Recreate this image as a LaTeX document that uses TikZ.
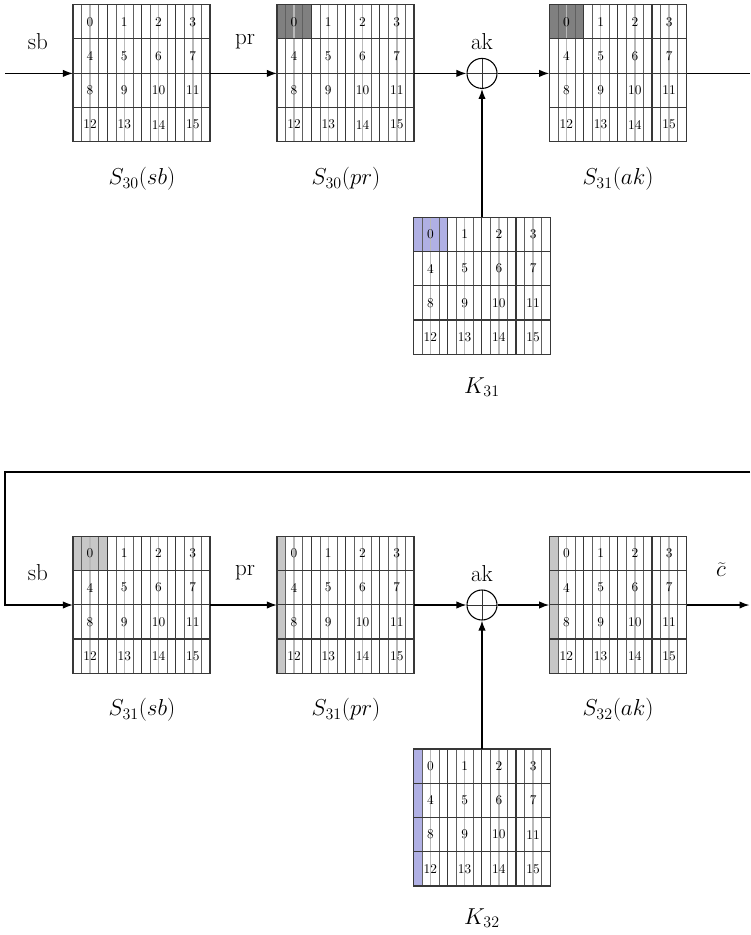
\documentclass[tikz,border=0pt]{standalone}
\usetikzlibrary{arrows.meta}

\definecolor{darkcell}{gray}{0.50}
\definecolor{lightcell}{gray}{0.78}
\definecolor{keycell}{RGB}{176,176,228}
\definecolor{gridink}{gray}{0.22}

\tikzset{
  gridframe/.style={draw=none, inner sep=0pt, minimum width=102.75pt, minimum height=102.75pt},
  cellline/.style={draw=gridink, line width=0.9pt},
  subline/.style={draw=gray!75!black, line width=0.3pt},
  midline/.style={draw=gray!55, line width=1.1pt},
  digit/.style={font=\normalsize, inner sep=0pt},
  xorc/.style={circle, draw, line width=0.8pt, minimum size=22.5pt, inner sep=0pt,
    path picture={\draw[gray!40!black, line width=0.45pt]
      (path picture bounding box.north) -- (path picture bounding box.south)
      (path picture bounding box.west) -- (path picture bounding box.east);}},
  flow/.style={draw, line width=1pt, -{Latex[length=7.5pt,width=5.5pt]}},
  plain/.style={draw, line width=1pt},
  oplbl/.style={font=\LARGE, inner sep=0pt},
  statelbl/.style={font=\LARGE, inner sep=0pt}
}

\def\cs{34.25}
% #1 node name, #2/#3 centre, #4 shading drawn under the lines
\newcommand\cellgrid[4]{%
  \node[gridframe] (#1) at (#2,#3) {};
  \begin{scope}[shift={(#1.north west)}]
    #4
    \foreach \c in {0,...,3}{
      \draw[subline] ({(\c+0.25)*\cs},0) -- ++(0,4*\cs);
      \draw[midline] ({(\c+0.5)*\cs},0) -- ++(0,4*\cs);
      \draw[subline] ({(\c+0.75)*\cs},0) -- ++(0,4*\cs);
    }
    \foreach \r in {1,2,3} \draw[cellline] (0,{\r*\cs}) -- ++(4*\cs,0);
    \foreach \c in {1,2,3} \draw[cellline] ({\c*\cs},0) -- ++(0,4*\cs);
    \draw[cellline] (0,0) rectangle (4*\cs,4*\cs);
    \foreach \r in {0,...,3} \foreach \c in {0,...,3} {
      \pgfmathtruncatemacro\k{4*\r+\c}
      \node[digit] at ({(\c+0.5)*\cs},{(\r+0.5)*\cs}) {\k};
    }
  \end{scope}}

\begin{document}
\begin{tikzpicture}[x=0.75pt, y=-0.75pt]
  \useasboundingbox (0,0) rectangle (750,935);

  % ---- round 30 -> 31 ----
  \cellgrid{g1}{141.7}{73.4}{}
  \cellgrid{g2}{345.7}{73.4}{\fill[darkcell] (0,0) rectangle (\cs,\cs);}
  \cellgrid{g3}{618}{73.4}{\fill[darkcell] (0,0) rectangle (\cs,\cs);}
  \cellgrid{k31}{482}{286}{\fill[keycell] (0,0) rectangle (\cs,\cs);}
  \node[xorc] (x1) at (482,73.4) {};

  \node[oplbl] (sb1) at (38,42) {sb};
  \node[oplbl] (pr1) at (245,42) {pr};
  \node[oplbl] (ak1) at (482,42) {ak};

  \node[statelbl] (n1) at (142,179) {$S_{30}(sb)$};
  \node[statelbl] (n2) at (346,179) {$S_{30}(pr)$};
  \node[statelbl] (n3) at (618,179) {$S_{31}(ak)$};
  \node[statelbl] (n4) at (482,387) {$K_{31}$};

  \coordinate (in1) at (5,73.4);
  \coordinate (out1) at (750,73.4);
  \draw[flow] (in1) -- (g1.west);
  \draw[flow] (g1.east) -- (g2.west);
  \draw[flow] (g2.east) -- (x1.west);
  \draw[flow] (x1.east) -- (g3.west);
  \draw[flow] (k31.north) -- (x1.south);
  \draw[plain] (g3.east) -- (out1);

  % ---- round 31 -> 32 ----
  \cellgrid{g4}{141.7}{605}{\fill[lightcell] (0,0) rectangle (\cs,\cs);}
  \cellgrid{g5}{345.7}{605}{\fill[lightcell] (0,0) rectangle ({0.25*\cs},{4*\cs});}
  \cellgrid{g6}{618}{605}{\fill[lightcell] (0,0) rectangle ({0.25*\cs},{4*\cs});}
  \cellgrid{k32}{482}{817.7}{\fill[keycell] (0,0) rectangle ({0.25*\cs},{4*\cs});}
  \node[xorc] (x2) at (482,605) {};

  \node[oplbl] (sb2) at (38,573) {sb};
  \node[oplbl] (pr2) at (245,573) {pr};
  \node[oplbl] (ak2) at (482,574) {ak};
  \node[oplbl] (ct) at (721,570) {$\widetilde{c}$};

  \node[statelbl] (n5) at (142,710) {$S_{31}(sb)$};
  \node[statelbl] (n6) at (346,710) {$S_{31}(pr)$};
  \node[statelbl] (n7) at (618,710) {$S_{32}(ak)$};
  \node[statelbl] (n8) at (482,918) {$K_{32}$};

  \coordinate (loopR) at (750,472);
  \coordinate (loopL) at (5,472);
  \coordinate (out2) at (749.5,605);
  \draw[flow] (loopR) -- (loopL) |- (g4.west);
  \draw[flow] (g4.east) -- (g5.west);
  \draw[flow] (g5.east) -- (x2.west);
  \draw[flow] (x2.east) -- (g6.west);
  \draw[flow] (k32.north) -- (x2.south);
  \draw[flow] (g6.east) -- (out2);
\end{tikzpicture}
\end{document}
